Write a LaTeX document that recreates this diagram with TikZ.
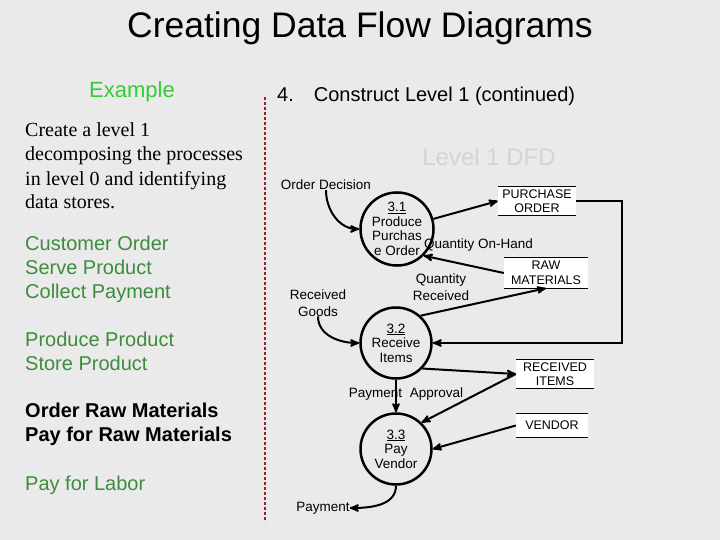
\documentclass[tikz,border=0pt]{standalone}
\usepackage{fontspec}
\setmainfont{Liberation Sans}
\newfontfamily\timesfont{Liberation Serif}
\usetikzlibrary{arrows}
\definecolor{bggrey}{RGB}{234,234,234}
\definecolor{exgreen}{RGB}{51,204,51}
\definecolor{listgreen}{RGB}{61,140,61}
\definecolor{dashred}{RGB}{160,30,40}
\definecolor{dfdgrey}{RGB}{212,212,212}
\tikzset{proc/.style={circle, draw, line width=2.5pt, minimum size=71pt, inner sep=0pt, align=center,
      font=\fontsize{13.5}{14.5}\selectfont}}
\tikzset{store/.style={fill=white, inner sep=1pt, align=center, font=\fontsize{12.5}{14.5}\selectfont}}
\tikzset{flow/.style={->, line width=2pt}}
\tikzset{lbl/.style={align=center, inner sep=0pt, font=\fontsize{13.5}{16.5}\selectfont}}
\tikzset{lst/.style={align=left, anchor=base west, inner sep=0pt, font=\fontsize{20}{24}\selectfont}}

\begin{document}
\begin{tikzpicture}[x=1pt,y=-1pt,>=stealth']
		\fill[bggrey] (0,0) rectangle (720,540);
		\useasboundingbox (0,0) rectangle (720,540);
		% left column (base anchor sits on the last line)
		\node[anchor=base, inner sep=0pt, font=\fontsize{35.5}{38}\selectfont] (title) at (360,38) {Creating Data Flow Diagrams};
		\node[anchor=base, inner sep=0pt, text=exgreen, font=\fontsize{22}{24}\selectfont] (ex) at (132,98) {Example};
		\node[lst, font=\timesfont\fontsize{20}{24}\selectfont] (intro) at (25,209) {Create a level 1\\decomposing the processes\\in level 0 and identifying\\data stores.};
		\node[lst, text=listgreen] (grp1) at (25,298) {Customer Order\\Serve Product\\Collect Payment};
		\node[lst, text=listgreen] (grp2) at (25,370) {Produce Product\\Store Product};
		\node[lst, font=\bfseries\fontsize{20}{24}\selectfont] (grp3) at (25,441) {Order Raw Materials\\Pay for Raw Materials};
		\node[lst, text=listgreen] (grp4) at (25,490) {Pay for Labor};
		\draw[dashred, line width=1.2pt, dash pattern=on 3pt off 2pt] (265,97) -- (265,522);
		% right column
		\node[anchor=base west, inner sep=0pt, font=\fontsize{20}{22}\selectfont] (step4) at (277,102) {4.\hspace{1em}Construct Level 1 (continued)};
		\node[anchor=base, inner sep=0pt, text=dfdgrey, font=\fontsize{24}{26}\selectfont] (lvl) at (489,166) {Level 1 DFD};
		% processes
		\node[proc] (p31) at (397,229) {\underline{3.1}\\Produce\\Purchas\\e Order};
		\node[proc] (p32) at (396,343) {\underline{3.2}\\Receive\\Items};
		\node[proc] (p33) at (396,449) {\underline{3.3}\\Pay\\Vendor};
		% data stores
		\node[store, minimum width=78pt, minimum height=28pt] (po) at (537,201) {PURCHASE\\ORDER};
		\node[store, minimum width=84pt, minimum height=30pt] (rm) at (546,273) {RAW\\MATERIALS};
		\node[store, minimum width=78pt, minimum height=28pt] (ri) at (555,374) {RECEIVED\\ITEMS};
		\node[store, minimum width=72pt, minimum height=23pt] (ven) at (552,425.5) {VENDOR};
		\foreach \s in {po,rm,ri,ven}
			\draw[line width=1pt] (\s.north west) -- (\s.north east) (\s.south west) -- (\s.south east);
		% flow labels
		\node[lbl] (od) at (326,185) {Order Decision};
		\node[lbl, anchor=west] (qoh) at (424,245) {Quantity On-Hand};
		\node[lbl] (qr) at (441,287) {Quantity\\Received};
		\node[lbl] (rg) at (318,303) {Received\\Goods};
		\node[lbl] (pa) at (406,394) {Payment\hspace{0.3em} Approval};
		\node[lbl] (pay) at (323,508) {Payment};
		% flows
		\draw[flow] (od.south) to[out=-90,in=180] (p31.west);
		\draw[flow] (p31) -- (po.west);
		\draw[flow] (rm.west) -- (p31.-45);
		\draw[flow] (p32.48) -- (rm.south);
		\draw[flow] (po.east) -- ++(46,0) |- (p32.east);
		\draw[flow] (rg.south) to[out=-90,in=180] (p32.west);
		\draw[flow] (p32.-44) -- (ri.west);
		\draw[flow] (ri.west) -- (p33.46);
		\draw[flow] (ven.west) -- (p33.east);
		\draw[flow] (p32.south) -- (p33.north);
		\draw[flow] (p33.south) to[out=-90,in=0] (pay.east);
\end{tikzpicture}
\end{document}
